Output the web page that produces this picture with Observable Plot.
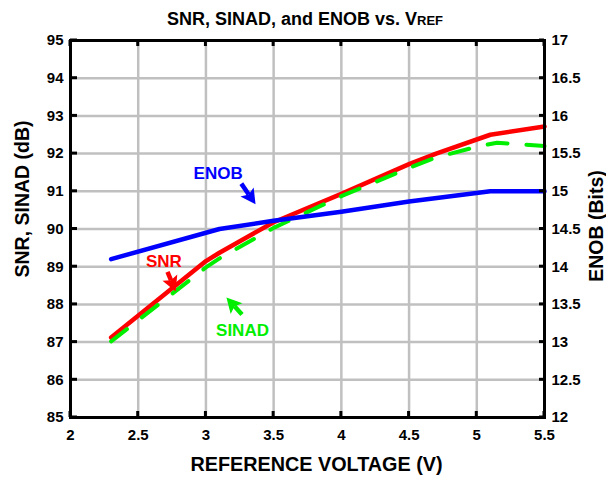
<!DOCTYPE html>
<html>
<head>
<meta charset="utf-8">
<script src="https://cdn.jsdelivr.net/npm/d3@7"></script>
<script src="https://cdn.jsdelivr.net/npm/@observablehq/plot@0.6"></script>
<style>
  body { margin: 0; background: #fff; }
  #wrap { position: relative; width: 606px; height: 477px; font-family: "Liberation Sans", Arial, sans-serif; }
  #title { position: absolute; top: 9px; left: 0; width: 610px; text-align: center; font-weight: bold; font-size: 18px; color: #000; z-index: 2; }
  #title span { font-size: 13px; }
</style>
</head>
<body>
<div id="wrap"><div id="title">SNR, SINAD, and ENOB vs. V<span>REF</span></div></div>
<script>
// ---- data ----
const xTicks = [2, 2.5, 3, 3.5, 4, 4.5, 5, 5.5];
const dbTicks = [85, 86, 87, 88, 89, 90, 91, 92, 93, 94, 95];
const enobTicks = [12, 12.5, 13, 13.5, 14, 14.5, 15, 15.5, 16, 16.5, 17];

const snrV  = [2.3, 3.0, 3.1, 3.5, 4.0, 4.5, 4.7, 5.1, 5.5];
const snrDb = [87.12, 89.15, 89.37, 90.18, 90.93, 91.72, 92.0, 92.5, 92.72];

const sinadV  = [2.3, 3.0, 3.1, 3.5, 4.0, 4.5, 4.7, 5.0, 5.15, 5.5];
const sinadDb = [87.02, 88.98, 89.22, 90.03, 90.87, 91.62, 91.9, 92.18, 92.29, 92.2];

const enobV    = [2.3, 3.1, 3.5, 4.0, 4.5, 5.1, 5.5];
const enobBits = [14.10, 14.50, 14.61, 14.73, 14.865, 15.0, 15.0];

const labelText  = ["ENOB", "SNR", "SINAD"];
const labelColor = ["#0000ff", "#ff0000", "#00ee00"];
const labelX     = [3.09, 2.69, 3.27];
const labelY     = [91.47, 89.13, 87.31];
const arrowX1    = [3.265, 2.72, 3.27];
const arrowY1    = [91.19, 88.85, 87.72];
const arrowX2    = [3.37, 2.78, 3.155];
const arrowY2    = [90.64, 88.33, 88.17];

// ---- build tables ----
const enobToDb = (b) => 85 + (b - 12) * 2;
const snr = snrV.map((v, i) => ({v, db: snrDb[i]}));
const sinad = sinadV.map((v, i) => ({v, db: sinadDb[i]}));
const enob = enobV.map((v, i) => ({v, db: enobToDb(enobBits[i])}));
const labels = labelText.map((t, i) => ({t, c: labelColor[i], x: labelX[i], y: labelY[i]}));
const arrows = labelText.map((t, i) => ({c: labelColor[i], x1: arrowX1[i], y1: arrowY1[i], x2: arrowX2[i], y2: arrowY2[i]}));
const enobDbTicks = enobTicks.map(enobToDb);
const enobFmt = new Map(enobTicks.map(b => [enobToDb(b), String(b)]));

const FONT = "Liberation Sans, Arial, sans-serif";
const xMin = 2, xMax = 5.5, yMin = 85, yMax = 95;

const plot = Plot.plot({
  width: 606,
  height: 477,
  marginLeft: 70,
  marginRight: 62,
  marginTop: 40,
  marginBottom: 60,
  style: {fontFamily: FONT, fontWeight: "bold", fontSize: "15px", background: "white", color: "black", overflow: "visible"},
  x: {domain: [xMin, xMax]},
  y: {domain: [yMin, yMax]},
  marks: [
    Plot.ruleX(xTicks, {stroke: "#c0c0c0", strokeWidth: 2.5}),
    Plot.ruleY(dbTicks, {stroke: "#c0c0c0", strokeWidth: 2.5}),
    // series
    Plot.line(snr, {x: "v", y: "db", stroke: "#ff0000", strokeWidth: 4.5}),
    Plot.line(sinad, {x: "v", y: "db", stroke: "#00ee00", strokeWidth: 4, strokeDasharray: "20,19"}),
    Plot.line(enob, {x: "v", y: "db", stroke: "#0000ff", strokeWidth: 4.5}),
    // frame
    Plot.frame({stroke: "black", strokeWidth: 3}),
    // tick labels
    Plot.axisX(xTicks, {anchor: "bottom", tickSize: 0, tickPadding: 12, label: null, fontSize: 15, fontWeight: "bold", tickFormat: d => String(d)}),
    Plot.axisY(dbTicks, {anchor: "left", tickSize: 0, tickPadding: 7, label: null, fontSize: 15, fontWeight: "bold", tickFormat: d => String(d)}),
    Plot.axisY(enobDbTicks, {anchor: "right", tickSize: 0, tickPadding: 7, label: null, fontSize: 15, fontWeight: "bold", tickFormat: d => enobFmt.get(d)}),
    // axis titles
    Plot.text(["REFERENCE VOLTAGE (V)"], {frameAnchor: "bottom", textAnchor: "middle", lineAnchor: "middle", dx: 9, dy: 47, fontSize: 19.8, fontWeight: "bold"}),
    Plot.text(["SNR, SINAD (dB)"], {frameAnchor: "left", textAnchor: "middle", lineAnchor: "middle", rotate: -90, dx: -48, dy: -30, fontSize: 19.5, fontWeight: "bold"}),
    Plot.text(["ENOB (Bits)"], {frameAnchor: "right", textAnchor: "middle", lineAnchor: "middle", rotate: -90, dx: 52, dy: -3, fontSize: 19.5, fontWeight: "bold"}),
    // annotations
    Plot.text(labels, {x: "x", y: "y", text: "t", fill: "c", fontSize: 17, fontWeight: "bold"})
  ]
});

const sx = plot.scale("x"), sy = plot.scale("y");
const svg = d3.select(plot);

// inward black tick marks on all four sides, positioned through the plot's scales
const tg = svg.append("g").attr("class", "inner-ticks").attr("stroke", "black").attr("stroke-width", 3);
const X0 = sx.apply(xMin), X1e = sx.apply(xMax), Y0 = sy.apply(yMin), Y1e = sy.apply(yMax);
for (const t of xTicks) {
  const X = sx.apply(t);
  tg.append("line").attr("x1", X).attr("x2", X).attr("y1", Y0).attr("y2", Y0 - 6);
  tg.append("line").attr("x1", X).attr("x2", X).attr("y1", Y1e).attr("y2", Y1e + 6);
}
for (const t of dbTicks) {
  const Y = sy.apply(t);
  tg.append("line").attr("x1", X0).attr("x2", X0 + 7).attr("y1", Y).attr("y2", Y);
}
for (const t of enobDbTicks) {
  const Y = sy.apply(t);
  tg.append("line").attr("x1", X1e).attr("x2", X1e - 5).attr("y1", Y).attr("y2", Y);
}

// filled annotation arrows, positioned through the plot's own scales
const g = svg.append("g").attr("class", "annot-arrows");
for (const a of arrows) {
  const X1 = sx.apply(a.x1), Y1 = sy.apply(a.y1), X2 = sx.apply(a.x2), Y2 = sy.apply(a.y2);
  const dx = X2 - X1, dy = Y2 - Y1, L = Math.hypot(dx, dy);
  const ux = dx / L, uy = dy / L, nx = -uy, ny = ux;
  const head = 15, half = 8;
  const bx = X2 - ux * head, by = Y2 - uy * head;
  const kx = X2 - ux * head * 0.8, ky = Y2 - uy * head * 0.8;
  g.append("line").attr("x1", X1).attr("y1", Y1).attr("x2", kx).attr("y2", ky)
    .attr("stroke", a.c).attr("stroke-width", 4.5);
  g.append("path")
    .attr("d", `M${X2},${Y2}L${bx + nx * half},${by + ny * half}L${kx},${ky}L${bx - nx * half},${by - ny * half}Z`)
    .attr("fill", a.c);
}

document.getElementById("wrap").appendChild(plot);
</script>
</body>
</html>
